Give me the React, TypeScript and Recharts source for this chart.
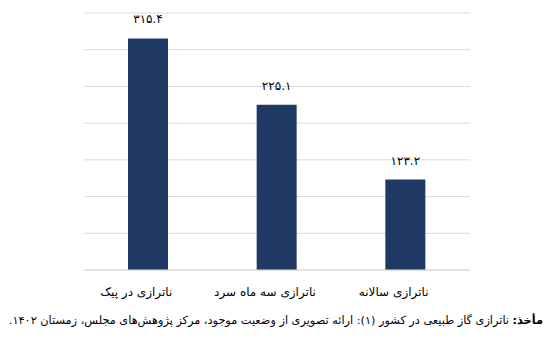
import { BarChart, Bar, XAxis, YAxis, CartesianGrid, LabelList } from 'recharts';

const categories = ['ناترازی در پیک', 'ناترازی سه ماه سرد', 'ناترازی سالانه'];
const values = [315.4, 225.1, 123.2];
const yTicks = [0, 50, 100, 150, 200, 250, 300, 350];

const chartData = categories.map((name, i) => ({ name, value: values[i] }));

const faFont = '"DejaVu Sans", "Noto Sans", sans-serif';

// western digits -> persian digits
const toPersian = (v: number | string) =>
  String(v).replace(/[0-9]/g, (d) => '۰۱۲۳۴۵۶۷۸۹'[Number(d)]);

const App = () => {
  return (
    <div
      style={{
        position: 'absolute',
        left: 0,
        top: 0,
        width: 549,
        height: 341,
        background: '#fff',
        overflow: 'hidden',
      }}
    >
      <BarChart
        width={549}
        height={305}
        data={chartData}
        margin={{ top: 13, right: 79, bottom: 5, left: 84 }}
      >
        <CartesianGrid vertical={false} stroke="#d9d9d9" />
        <YAxis hide domain={[0, 350]} ticks={yTicks} />
        <XAxis
          dataKey="name"
          height={30}
          stroke="#d9d9d9"
          tickLine={false}
          tickMargin={11}
          tick={{ fill: '#000', fontSize: 12, fontFamily: faFont, dx: -12 }}
        />
        <Bar dataKey="value" fill="#203864" barSize={40} isAnimationActive={false}>
          <LabelList
            dataKey="value"
            position="top"
            offset={15}
            formatter={(v: number) => toPersian(v)}
            style={{ fill: '#000', fontSize: 12, fontFamily: faFont }}
          />
        </Bar>
      </BarChart>
      <div
        style={{
          position: 'absolute',
          top: 314,
          right: 6,
          width: 543,
          textAlign: 'right',
          direction: 'rtl',
          fontFamily: faFont,
          fontSize: 11.3,
          color: '#000',
          whiteSpace: 'nowrap',
        }}
      >
        <b>مأخذ:</b> ناترازی گاز طبیعی در کشور (۱): ارائه تصویری از وضعیت موجود، مرکز پژوهش‌های مجلس، زمستان ۱۴۰۲.
      </div>
    </div>
  );
};

export default App;
